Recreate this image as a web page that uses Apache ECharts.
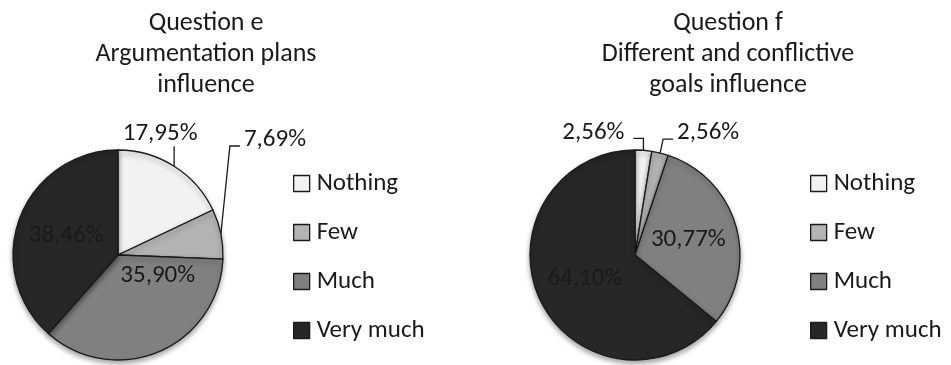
<!DOCTYPE html>
<html>
<head>
<meta charset="utf-8">
<script src="https://cdn.jsdelivr.net/npm/echarts@6/dist/echarts.min.js"></script>
<style>
html,body{margin:0;padding:0;background:#fff;}
#c{width:951px;height:365px;}
</style>
</head>
<body>
<div id="c"></div>
<script>
const categories = ['Nothing', 'Few', 'Much', 'Very much'];
const titleE = 'Question e\nArgumentation plans\ninfluence';
const titleF = 'Question f\nDifferent and conflictive\ngoals influence';
const valuesE = [17.95, 7.69, 35.90, 38.46];
const valuesF = [2.56, 2.56, 30.77, 64.10];

const colors = ['#f2f2f2', '#b3b3b3', '#808080', '#272727'];
const FONT = 'Carlito, Lato, "Liberation Sans", sans-serif';
const fmt = v => v.toFixed(2).replace('.', ',') + '%';

// which labels sit outside (per series), others inside
const outsideE = [true, true, false, false];
const outsideF = [true, true, false, false];

function buildData(vals, outside) {
  return categories.map((n, i) => ({
    name: n, value: vals[i],
    label: { position: outside[i] ? 'outside' : 'inside' },
    labelLine: { show: outside[i] }
  }));
}

// label placement styles relative to the slice edge point
const layoutStyle = {
  '0-0': { line: [[0, -20]], lx: -14, ly: -33, align: 'center' },
  '0-1': { line: [[9, -88], [19, -88]], lx: 23, ly: -94, align: 'left' },
  '1-0': { line: [[0, -12], [-10, -12]], lx: -19, ly: -18, align: 'right' },
  '1-1': { line: [[3, -14], [13, -14]], lx: 17, ly: -20, align: 'left' }
};
const insideShift = { '0-2': [18, -30] };

function layoutFn(params) {
  const key = params.seriesIndex + '-' + params.dataIndex;
  const st = layoutStyle[key];
  if (st && params.labelLinePoints) {
    const p0 = params.labelLinePoints[0];
    const pts = [[p0[0], p0[1]]].concat(st.line.map(d => [p0[0] + d[0], p0[1] + d[1]]));
    return { x: p0[0] + st.lx, y: p0[1] + st.ly, align: st.align, verticalAlign: 'middle', labelLinePoints: pts };
  }
  const sh = insideShift[key];
  if (sh) return { dx: sh[0], dy: sh[1] };
  return {};
}

function pieSeries(vals, outside, cx) {
  return {
    type: 'pie',
    center: [cx, 255],
    radius: 105,
    startAngle: 90,
    clockwise: true,
    avoidLabelOverlap: false,
    animation: false,
    data: buildData(vals, outside),
    itemStyle: {
      color: p => colors[p.dataIndex],
      borderColor: '#1a1a1a', borderWidth: 1.3,
      shadowBlur: 5, shadowColor: 'rgba(0,0,0,0.35)', shadowOffsetY: 3
    },
    label: {
      formatter: p => fmt(p.value),
      fontFamily: FONT, fontSize: 25, color: '#1a1a1a'
    },
    labelLine: { show: true, length: 20, length2: 10, smooth: false,
      lineStyle: { color: '#1a1a1a', width: 1.3 } },
    labelLayout: layoutFn,
    emphasis: { disabled: true }
  };
}

const chart = echarts.init(document.getElementById('c'), null, { renderer: 'canvas' });

function makeLegend(left) {
  return {
    orient: 'vertical', left: left, top: 171, padding: 0,
    itemWidth: 16, itemHeight: 16, itemGap: 24,
    icon: 'rect', selectedMode: false,
    data: categories,
    itemStyle: { borderColor: '#1a1a1a', borderWidth: 1.3 },
    textStyle: { fontFamily: FONT, fontSize: 25, color: '#1a1a1a', lineHeight: 24, padding: [0, 0, 0, 2] }
  };
}

chart.setOption({
  backgroundColor: '#ffffff',
  color: colors,
  title: [
    { text: titleE, left: 201, top: 3, textAlign: 'center',
      textStyle: { fontFamily: FONT, fontSize: 26, fontWeight: 'normal', color: '#1a1a1a', lineHeight: 31 } },
    { text: titleF, left: 723, top: 3, textAlign: 'center',
      textStyle: { fontFamily: FONT, fontSize: 26, fontWeight: 'normal', color: '#1a1a1a', lineHeight: 31 } }
  ],
  legend: [makeLegend(293), makeLegend(810)],
  series: [pieSeries(valuesE, outsideE, 118), pieSeries(valuesF, outsideF, 635)]
});
</script>
</body>
</html>
